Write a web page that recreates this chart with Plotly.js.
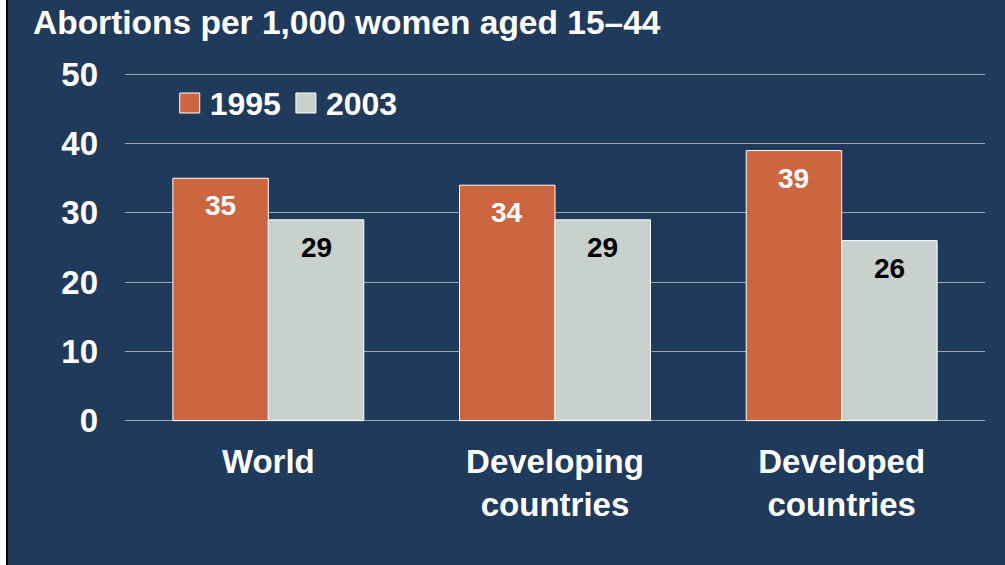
<!DOCTYPE html>
<html>
<head>
<meta charset="utf-8">
<script src="https://cdn.plot.ly/plotly-3.0.1.min.js"></script>
<style>
  html, body { margin: 0; padding: 0; background: #ffffff; width: 1005px; height: 565px; overflow: hidden; }
  #wrap { position: absolute; left: 6px; top: 0; width: 997px; height: 565px; border-left: 2px solid #000; background: #1f3a5a; }
  #chart { width: 997px; height: 565px; }
</style>
</head>
<body>
<div id="wrap"><div id="chart"></div></div>
<script>
const categories = ["World", "Developing<br>countries", "Developed<br>countries"];
const seriesNames = ["1995", "2003"];
const values1995 = [35, 34, 39];
const values2003 = [29, 29, 26];
const yTickValues = [0, 10, 20, 30, 40, 50];

const colors = ["#cc6640", "#c9d1cc"];
const labelColors = ["#ffffff", "#000000"];
const FONT = "Liberation Sans, Arial, Helvetica, sans-serif";

const traces = [values1995, values2003].map((vals, i) => ({
  type: "bar",
  name: seriesNames[i],
  x: categories,
  y: vals,
  marker: { color: colors[i], line: { color: "#ffffff", width: 1 } },
  hoverinfo: "x+y+name"
}));

const barShift = 47.8;
const annotations = [];
[values1995, values2003].forEach((vals, i) => {
  vals.forEach((v, j) => {
    annotations.push({
      x: categories[j], y: v, xref: "x", yref: "y",
      xshift: i === 0 ? -barShift : barShift,
      yshift: -10,
      yanchor: "top",
      text: String(v),
      showarrow: false,
      font: { family: FONT, size: 28, color: labelColors[i], weight: "bold" }
    });
  });
});

const layout = {
  width: 997, height: 565,
  paper_bgcolor: "#1f3a5a",
  plot_bgcolor: "#1f3a5a",
  margin: { l: 117, r: 20, t: 72.6, b: 142.6 },
  barmode: "group",
  bargap: 0.334,
  bargroupgap: 0,
  title: {
    text: "<b>Abortions per 1,000 women aged 15–44</b>",
    font: { family: FONT, size: 33.5, color: "#ffffff" },
    xref: "container", x: 25 / 997, xanchor: "left",
    yref: "container", y: 1 - 22 / 565, yanchor: "middle"
  },
  xaxis: {
    type: "category",
    showgrid: false, zeroline: false, showline: false, ticks: "",
    tickfont: { family: FONT, size: 33, color: "#ffffff", weight: "bold" },
    ticklabelstandoff: 17
  },
  yaxis: {
    range: [-0.2, 50.2],
    tickvals: yTickValues,
    ticktext: yTickValues.map(String),
    showgrid: true, gridcolor: "#9ba6b2", gridwidth: 1,
    zeroline: false, showline: false, ticks: "",
    tickfont: { family: FONT, size: 33, color: "#ffffff", weight: "bold" },
    ticklabelstandoff: 26
  },
  showlegend: true,
  legend: {
    orientation: "h",
    x: 0.052, xanchor: "left",
    y: 0.9135, yanchor: "middle",
    bgcolor: "rgba(0,0,0,0)",
    font: { family: FONT, size: 32, color: "#ffffff", weight: "bold" },
    itemclick: false, itemdoubleclick: false
  },
  annotations: annotations
};

Plotly.newPlot("chart", traces, layout, { displayModeBar: false, staticPlot: true }).then(gd => {
  gd.querySelectorAll(".legend .legendpoints path").forEach(p => {
    p.setAttribute("d", "M10,10H-10V-10H10Z");
  });
});
</script>
</body>
</html>
